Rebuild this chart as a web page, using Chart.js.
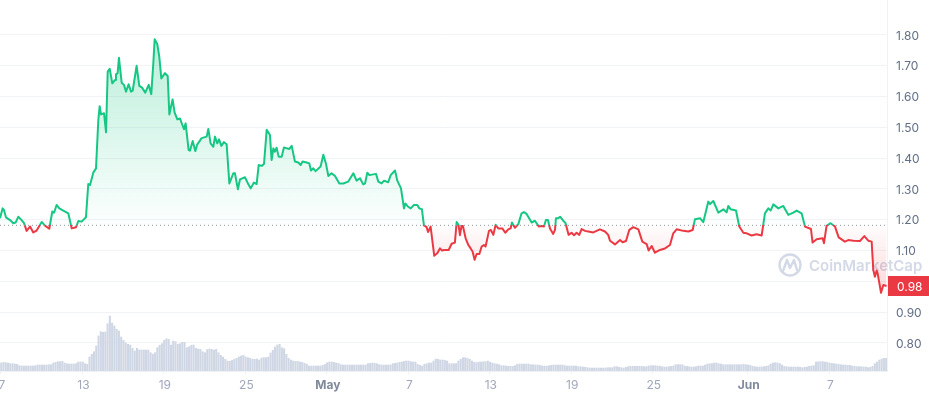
<!DOCTYPE html>
<html>
<head>
<meta charset="utf-8">
<title>CoinMarketCap price chart</title>
<script src="https://cdn.jsdelivr.net/npm/chart.js@4/dist/chart.umd.min.js"></script>
<style>
  html, body { margin: 0; padding: 0; background: #fff; overflow: hidden; }
  canvas { display: block; }
</style>
</head>
<body>
<canvas id="price-chart" width="929" height="396"></canvas>
<script>
// x axis: days counted from 7 April
const xTickDays = [0, 6, 12, 18, 24, 30, 36, 42, 48, 55, 61];
const xTickLabels = ['7', '13', '19', '25', 'May', '7', '13', '19', '25', 'Jun', '7'];
const boldLabels = ['May', 'Jun'];
const yTicks = [0.8, 0.9, 1.0, 1.1, 1.2, 1.3, 1.4, 1.5, 1.6, 1.7, 1.8];

const basePrice = 1.182;
const lastPrice = '0.98';

const priceDays = [
  -0.07,0.12,0.22,0.37,0.67,0.91,1.08,1.28,1.52,1.70,1.89,2.14,2.38,2.63,3.00,3.24,3.56,3.78,3.91,4.10,
  4.30,4.59,4.96,5.21,5.53,5.70,5.94,6.26,6.43,6.56,6.80,7.00,7.17,7.27,7.37,7.59,7.74,7.86,8.01,8.20,
  8.40,8.47,8.59,8.69,8.89,9.06,9.21,9.40,9.58,9.70,9.99,10.19,10.39,10.63,10.88,11.07,11.22,11.32,11.51,11.66,
  11.81,12.08,12.28,12.40,12.64,12.79,12.99,13.18,13.48,13.60,13.82,13.92,14.12,14.31,14.46,14.78,15.15,15.27,15.44,15.64,
  15.76,15.93,16.06,16.23,16.42,16.62,16.82,17.11,17.23,17.45,17.60,17.97,18.22,18.39,18.63,18.83,18.98,19.20,19.37,19.57,
  19.81,19.93,20.06,20.18,20.30,20.45,20.67,20.84,21.04,21.24,21.41,21.65,21.90,22.07,22.21,22.51,22.71,22.83,23.00,23.17,
  23.54,23.74,23.93,24.11,24.35,24.60,24.92,25.21,25.58,25.95,26.19,26.44,26.68,26.81,26.98,27.13,27.62,27.79,28.03,28.21,
  28.52,28.70,29.02,29.19,29.46,29.68,29.78,29.97,30.17,30.41,30.66,30.81,31.00,31.15,31.35,31.45,31.64,31.91,32.13,32.33,
  32.48,32.65,32.97,33.19,33.43,33.56,33.70,33.80,33.92,34.02,34.22,34.42,34.59,34.73,34.88,35.03,35.23,35.40,35.57,35.69,
  35.94,36.08,36.26,36.43,36.62,36.92,37.14,37.36,37.53,37.63,37.85,38.10,38.34,38.51,38.71,39.08,39.32,39.62,39.82,39.99,
  40.13,40.28,40.43,40.67,40.80,40.87,41.04,41.17,41.41,41.58,41.80,42.02,42.20,42.39,42.59,42.76,43.01,43.25,43.62,44.11,
  44.48,44.72,44.85,45.22,45.59,45.78,46.03,46.27,46.57,46.94,47.23,47.55,47.70,47.92,48.16,48.53,48.90,49.27,49.51,49.76,
  50.25,50.62,50.94,51.11,51.48,51.72,52.09,52.21,52.46,52.83,53.20,53.44,53.56,53.74,54.13,54.37,54.67,54.91,55.28,55.65,
  56.02,56.26,56.51,56.68,56.88,57.25,57.61,57.98,58.35,58.60,58.96,59.21,59.65,59.77,60.07,60.51,60.61,60.80,61.10,61.42,
  61.69,62.15,62.40,62.77,63.26,63.58,63.87,64.12,64.24,64.36,64.49,64.56,64.81,64.98,65.22
];
const priceValues = [
  1.205,1.237,1.232,1.208,1.199,1.189,1.191,1.210,1.199,1.189,1.164,1.178,1.159,1.165,1.193,1.181,1.171,1.227,1.223,1.248,
  1.237,1.230,1.221,1.172,1.176,1.196,1.194,1.208,1.316,1.313,1.353,1.367,1.524,1.569,1.542,1.546,1.484,1.681,1.690,1.643,
  1.654,1.672,1.676,1.726,1.645,1.638,1.616,1.640,1.616,1.619,1.700,1.635,1.629,1.613,1.638,1.608,1.708,1.786,1.771,1.730,
  1.659,1.676,1.667,1.542,1.591,1.548,1.526,1.529,1.494,1.513,1.427,1.424,1.456,1.423,1.445,1.465,1.470,1.495,1.448,1.437,
  1.470,1.448,1.461,1.440,1.452,1.445,1.318,1.351,1.351,1.299,1.331,1.338,1.315,1.302,1.321,1.316,1.378,1.375,1.381,1.492,
  1.475,1.394,1.432,1.421,1.434,1.405,1.405,1.435,1.432,1.430,1.440,1.389,1.386,1.378,1.389,1.386,1.383,1.360,1.367,1.358,
  1.373,1.411,1.383,1.342,1.351,1.342,1.318,1.318,1.324,1.351,1.327,1.335,1.315,1.318,1.353,1.345,1.349,1.324,1.318,1.327,
  1.322,1.345,1.360,1.327,1.302,1.237,1.253,1.243,1.237,1.248,1.248,1.237,1.234,1.182,1.176,1.160,1.178,1.083,1.091,1.107,
  1.100,1.102,1.102,1.122,1.126,1.193,1.183,1.150,1.180,1.180,1.140,1.118,1.107,1.097,1.070,1.089,1.089,1.113,1.118,1.113,
  1.164,1.167,1.151,1.184,1.172,1.172,1.158,1.169,1.172,1.191,1.174,1.186,1.221,1.225,1.219,1.191,1.197,1.178,1.180,1.178,
  1.199,1.199,1.172,1.154,1.167,1.205,1.205,1.210,1.197,1.189,1.151,1.158,1.150,1.158,1.151,1.170,1.164,1.162,1.159,1.169,
  1.162,1.151,1.132,1.120,1.134,1.127,1.131,1.167,1.176,1.169,1.129,1.121,1.100,1.115,1.093,1.102,1.107,1.118,1.156,1.169,
  1.164,1.162,1.167,1.202,1.205,1.192,1.259,1.251,1.261,1.223,1.234,1.224,1.245,1.234,1.230,1.178,1.158,1.156,1.149,1.153,
  1.149,1.221,1.237,1.230,1.250,1.237,1.245,1.216,1.223,1.230,1.221,1.178,1.170,1.126,1.137,1.140,1.124,1.180,1.189,1.178,
  1.143,1.129,1.134,1.132,1.131,1.147,1.132,1.129,1.037,1.015,1.035,1.026,0.963,0.988,0.985
];

// volume, one bar every 4 hours, arbitrary units
const volumeValues = [
  24,26,25,24,22,22,21,20,16,15,15,15,15,15,15,16,18,18,18,18,18,19,19,24,26,28,28,29,24,
  22,21,21,21,22,27,27,27,22,20,42,50,58,75,105,118,116,117,142,165,144,135,125,120,102,92,84,80,78,
  68,60,68,63,63,63,63,63,55,50,55,70,77,82,92,97,95,78,90,88,80,82,86,86,70,73,77,78,68,66,65,58,55,
  64,66,65,63,65,55,47,42,35,30,29,32,35,38,42,45,47,42,40,38,35,35,36,33,39,40,40,42,54,62,72,78,80,
  70,67,50,38,33,30,29,29,27,26,23,20,15,15,15,15,15,15,17,20,25,27,27,26,24,23,19,18,18,18,18,18,18,
  18,18,18,18,18,22,23,24,23,22,19,18,18,18,18,18,22,23,24,26,27,29,30,30,28,27,27,20,17,15,20,22,24,24,30,36,
  35,33,33,32,30,22,22,22,22,30,35,40,
  40,38,35,30,26,25,27,27,28,28,30,26,24,22,21,19,16,16,15,14,14,14,16,20,21,21,21,21,21,19,19,18,18,
  17,15,15,14,16,17,18,18,18,18,18,16,15,15,15,15,15,13,13,12,11,10,9,9,9,9,9,9,9,9,10,10,10,13,13,11,10,9,
  11,13,14,14,14,14,14,14,13,13,15,16,16,16,15,15,13,12,12,13,14,15,19,19,19,19,15,14,13,12,12,13,15,15,
  15,18,21,22,22,24,24,22,21,19,19,19,19,19,19,19,19,19,20,19,18,17,14,13,12,12,12,13,14,16,21,24,25,24,22,
  18,14,13,12,12,12,12,12,11,10,11,12,14,15,16,27,28,28,28,27,26,24,23,22,21,20,19,18,18,17,17,15,14,13,
  13,13,12,12,10,11,14,22,27,33,36,38,38
];

const GREEN = '#16c784';
const RED = '#ea3943';

// label for a tick, the tick is missing while the scale is measuring itself
const tickLabel = (ctx) => (ctx.tick ? xTickLabels[xTickDays.indexOf(ctx.tick.value)] : '');

const gradientPlugin = {
  id: 'gradients',
  afterLayout(chart) {
    const { ctx, chartArea, scales } = chart;
    const baseY = scales.y.getPixelForValue(basePrice);
    const stop = (baseY - chartArea.top) / (chartArea.bottom - chartArea.top);

    // hard stop: green above the opening price, red below it
    const stroke = ctx.createLinearGradient(0, chartArea.top, 0, chartArea.bottom);
    stroke.addColorStop(0, GREEN);
    stroke.addColorStop(stop, GREEN);
    stroke.addColorStop(stop, RED);
    stroke.addColorStop(1, RED);

    const above = ctx.createLinearGradient(0, scales.y.getPixelForValue(1.8), 0, baseY);
    above.addColorStop(0, 'rgba(22,199,132,0.30)');
    above.addColorStop(1, 'rgba(22,199,132,0.01)');

    const below = ctx.createLinearGradient(0, baseY, 0, scales.y.getPixelForValue(0.96));
    below.addColorStop(0, 'rgba(234,57,67,0.01)');
    below.addColorStop(1, 'rgba(234,57,67,0.20)');

    const line = chart.data.datasets[1];
    line.borderColor = stroke;
    line.fill = { target: { value: basePrice }, above, below };
  },
};

const overlayPlugin = {
  id: 'overlay',
  // watermark goes under the line
  beforeDatasetsDraw(chart) {
    const { ctx } = chart;
    ctx.save();
    ctx.strokeStyle = '#d3d9e6';
    ctx.lineWidth = 2.4;
    ctx.lineJoin = 'round';
    ctx.lineCap = 'round';
    ctx.beginPath();
    ctx.arc(790, 265, 10.5, 0, Math.PI * 2);
    ctx.stroke();
    ctx.beginPath();
    ctx.moveTo(783, 271);
    ctx.lineTo(787, 260);
    ctx.lineTo(790, 268);
    ctx.lineTo(794, 260);
    ctx.lineTo(797, 270);
    ctx.stroke();
    ctx.fillStyle = '#d3d9e6';
    ctx.font = '600 15px Inter, sans-serif';
    ctx.textBaseline = 'middle';
    ctx.textAlign = 'left';
    ctx.fillText('CoinMarketCap', 809, 266);
    ctx.restore();
  },
  // current price flag on the right axis
  afterDraw(chart) {
    const { ctx, scales } = chart;
    const y = Math.round(scales.y.getPixelForValue(Number(lastPrice) + 0.005));
    ctx.save();
    ctx.fillStyle = RED;
    ctx.fillRect(888, y - 10, 41, 20);
    ctx.fillStyle = '#fff';
    ctx.font = '12px Inter, sans-serif';
    ctx.textBaseline = 'middle';
    ctx.textAlign = 'left';
    ctx.fillText(lastPrice, 897, y + 1);
    ctx.restore();
  },
};

new Chart(document.querySelector('#price-chart'), {
  data: {
    datasets: [
      {
        type: 'line',
        data: [
          { x: -0.07, y: basePrice },
          { x: 65.22, y: basePrice },
        ],
        borderColor: '#8f96a3',
        borderWidth: 1,
        borderDash: [1, 3],
        pointRadius: 0,
        fill: false,
        order: 1,
      },
      {
        type: 'line',
        data: priceDays.map((d, i) => ({ x: d, y: priceValues[i] })),
        borderColor: GREEN,
        borderWidth: 2,
        borderJoinStyle: 'round',
        pointRadius: 0,
        tension: 0,
        order: 2,
      },
      {
        type: 'bar',
        yAxisID: 'yVolume',
        data: volumeValues.map((v, i) => ({ x: i / 6 + 0.02, y: v })),
        backgroundColor: '#cfd6e4',
        barThickness: 1.4,
        order: 3,
      },
    ],
  },
  options: {
    responsive: false,
    devicePixelRatio: 1,
    animation: false,
    layout: { padding: 0 },
    plugins: {
      legend: { display: false },
      title: { display: false },
      tooltip: { enabled: false },
    },
    scales: {
      x: {
        type: 'linear',
        offset: false,
        min: -0.07,
        max: 65.25,
        afterBuildTicks(scale) {
          scale.ticks = xTickDays.map((value) => ({ value }));
        },
        afterFit(scale) {
          scale.height = 25;
          scale.paddingLeft = 0;
          scale.paddingRight = 0;
        },
        grid: { offset: false, drawOnChartArea: false, color: '#eff2f5', tickLength: 3 },
        border: { color: '#eff2f5' },
        ticks: {
          autoSkip: false,
          maxRotation: 0,
          padding: 4,
          labelOffset: 1,
          color: (ctx) => (boldLabels.includes(tickLabel(ctx)) ? '#808a9d' : '#a1a7bb'),
          font: (ctx) => ({
            family: 'Inter',
            size: 12,
            weight: boldLabels.includes(tickLabel(ctx)) ? '700' : '400',
          }),
          callback: (value) => xTickLabels[xTickDays.indexOf(value)],
        },
      },
      y: {
        position: 'right',
        min: 0.709,
        max: 1.9136,
        afterBuildTicks(scale) {
          scale.ticks = yTicks.map((value) => ({ value }));
        },
        afterFit(scale) {
          scale.width = 42;
          scale.paddingTop = 0;
          scale.paddingBottom = 0;
        },
        grid: { color: '#f1f3f6', drawTicks: false },
        border: { color: '#eff2f5' },
        ticks: {
          padding: 9,
          labelOffset: 1,
          color: '#616e85',
          font: { family: 'Inter', size: 12 },
          callback: (value) => value.toFixed(2),
        },
      },
      yVolume: {
        display: false,
        min: 0,
        max: 1113,
      },
    },
  },
  plugins: [gradientPlugin, overlayPlugin],
});
</script>
</body>
</html>
